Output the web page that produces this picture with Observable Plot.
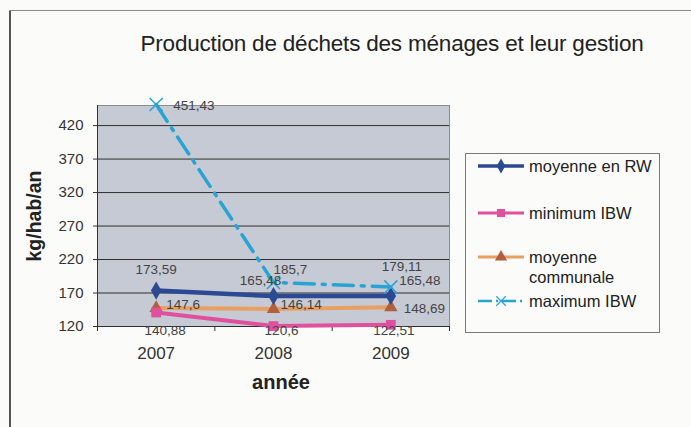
<!DOCTYPE html>
<html><head><meta charset="utf-8">
<script src="https://cdn.jsdelivr.net/npm/d3@7"></script>
<script src="https://cdn.jsdelivr.net/npm/@observablehq/plot@0.6"></script>
<style>
body{margin:0;background:#fbfbf9;font-family:"Liberation Sans",Arial,sans-serif;}
#wrap{position:relative;width:691px;height:427px;overflow:hidden;background:#fbfbf9;}
#wrap > svg{position:absolute;left:0;top:0;}
#frameL{position:absolute;left:9px;top:10px;width:2px;height:420px;background:#555;}
#frameT{position:absolute;left:9px;top:10px;width:690px;height:1px;background:#8a8a8a;}
#title{position:absolute;left:0;width:784px;top:31px;text-align:center;font-size:22.5px;color:#222;letter-spacing:-0.2px;}
#ylab{position:absolute;left:34px;top:216px;transform:translate(-50%,-50%) rotate(-90deg);font-size:19.5px;font-weight:bold;color:#222;white-space:nowrap;}
#xlab{position:absolute;left:281px;top:382px;transform:translate(-50%,-50%);font-size:20px;font-weight:bold;color:#222;}
#legend{position:absolute;left:465px;top:153px;width:193px;height:178px;border:1px solid #7a7a7a;background:#fbfbf9;}
.item{position:absolute;left:10px;display:flex;align-items:flex-start;font-size:16.5px;color:#222;line-height:20px;}
.item svg{flex:none;margin-right:3px;}
</style></head><body>
<div id="wrap">
  <div id="frameL"></div><div id="frameT"></div>
  <div id="title">Production de déchets des ménages et leur gestion</div>
  <div id="ylab">kg/hab/an</div>
  <div id="xlab">année</div>
  <div id="legend"></div>
</div>
<script>
// ---- data ----
const years = [2007, 2008, 2009];
const seriesNames = ["moyenne en RW", "minimum IBW", "moyenne communale", "maximum IBW"];
const moyenneRW = [173.59, 165.48, 165.48];
const minimumIBW = [140.88, 120.6, 122.51];
const moyenneCommunale = [147.6, 146.14, 148.69];
const maximumIBW = [451.43, 185.7, 179.11];
const yTicks = [120, 170, 220, 270, 320, 370, 420];
const yDomain = [120, 450];

// ---- styles ----
const styles = {
  "moyenne en RW": {color: "#2b4a93", width: 4.5, dash: null, symbol: "diamond", fill: "#2b4a93", r: 5.5, sw: 0,
    offsets: [[0, -21], [-13, -15], [29, -15]], anchor: "middle"},
  "minimum IBW": {color: "#e0509d", width: 4, dash: null, symbol: "square", fill: "#e0509d", r: 5.5, sw: 0,
    offsets: [[9, 18], [8, 5], [3, 6]], anchor: "middle"},
  "moyenne communale": {color: "#e8a062", width: 4, dash: null, symbol: "triangle", fill: "#b0603e", r: 5, sw: 0,
    offsets: [[10, -3], [7, -4], [13, 1]], anchor: "start"},
  "maximum IBW": {color: "#28a4d4", width: 3.5, dash: "20,8,3,8", symbol: "times", fill: "none", r: 6, sw: 1.5,
    offsets: [[17, 1], [0, -13], [-9, -20]], anchor: "start"}
};
const valuesBySeries = {
  "moyenne en RW": moyenneRW,
  "minimum IBW": minimumIBW,
  "moyenne communale": moyenneCommunale,
  "maximum IBW": maximumIBW
};
const rows = seriesNames.flatMap(s => years.map((yr, i) => ({series: s, year: yr, value: valuesBySeries[s][i], i})));
const fmt = v => String(v).replace(".", ",");
const boundaries = [years[0] - 0.5, ...years.map(y => y + 0.5)];

const marks = [
  Plot.frame({fill: "#c6cad4", stroke: "#8c8c8c"}),
  Plot.gridY(yTicks, {stroke: "#2e2e2e", strokeOpacity: 1, strokeWidth: 1}),
  Plot.ruleX([boundaries[0]], {stroke: "#333", strokeWidth: 1}),
  Plot.axisY({ticks: yTicks, tickSize: 4, tickPadding: 10, fontSize: 15, label: null, color: "#333"}),
  Plot.axisX({ticks: years, tickSize: 0, tickPadding: 20, fontSize: 17, label: null, tickFormat: d => String(d), color: "#333"}),
  Plot.axisX({ticks: boundaries, tickSize: 5, tickFormat: () => "", label: null, color: "#333"})
];
const order = ["moyenne communale", "minimum IBW", "moyenne en RW", "maximum IBW"];
for (const s of order) {
  const st = styles[s];
  const d = rows.filter(r => r.series === s);
  marks.push(Plot.line(d, {x: "year", y: "value", stroke: st.color, strokeWidth: st.width, strokeDasharray: st.dash}));
  marks.push(Plot.dot(d, {x: "year", y: "value", symbol: () => st.symbol, r: st.r,
    fill: st.fill, stroke: st.fill === "none" ? st.color : "none", strokeWidth: st.sw}));
}
for (const s of order) {
  const st = styles[s];
  rows.filter(r => r.series === s).forEach(row => {
    const [dx, dy] = st.offsets[row.i];
    marks.push(Plot.text([row], {x: "year", y: "value", text: r => fmt(r.value), dx, dy,
      textAnchor: st.anchor, fontSize: 13.5, fill: "#444"}));
  });
}

const chart = Plot.plot({
  width: 691, height: 427,
  marginLeft: 97, marginRight: 242, marginTop: 105, marginBottom: 101,
  x: {domain: [boundaries[0], boundaries[boundaries.length - 1]]},
  y: {domain: yDomain},
  style: {background: "transparent", fontFamily: "'Liberation Sans', Arial, sans-serif", color: "#333"},
  marks
});
document.getElementById("wrap").insertBefore(chart, document.getElementById("frameL"));

// ---- legend ----
const legend = document.getElementById("legend");
const legendTops = [2, 49, 93, 137];
const symMap = {diamond: d3.symbolDiamond, square: d3.symbolSquare, triangle: d3.symbolTriangle, times: d3.symbolTimes};
seriesNames.forEach((s, k) => {
  const st = styles[s];
  const item = document.createElement("div");
  item.className = "item";
  item.style.top = legendTops[k] + "px";
  const svg = d3.create("svg").attr("width", 50).attr("height", 20);
  svg.append("line").attr("x1", 2).attr("x2", 48).attr("y1", 10).attr("y2", 10)
    .attr("stroke", st.color).attr("stroke-width", st.width - 1.2)
    .attr("stroke-dasharray", st.dash ? "14,4,2,4" : null);
  svg.append("path").attr("transform", "translate(25,10)")
    .attr("d", d3.symbol(symMap[st.symbol], st.symbol === "times" ? 60 : 64)())
    .attr("fill", st.fill === "none" ? "none" : st.fill)
    .attr("stroke", st.fill === "none" ? st.color : "none").attr("stroke-width", 1.2);
  item.appendChild(svg.node());
  const t = document.createElement("div");
  t.innerHTML = s === "moyenne communale" ? "moyenne<br>communale" : s;
  item.appendChild(t);
  legend.appendChild(item);
});
</script>
</body></html>
